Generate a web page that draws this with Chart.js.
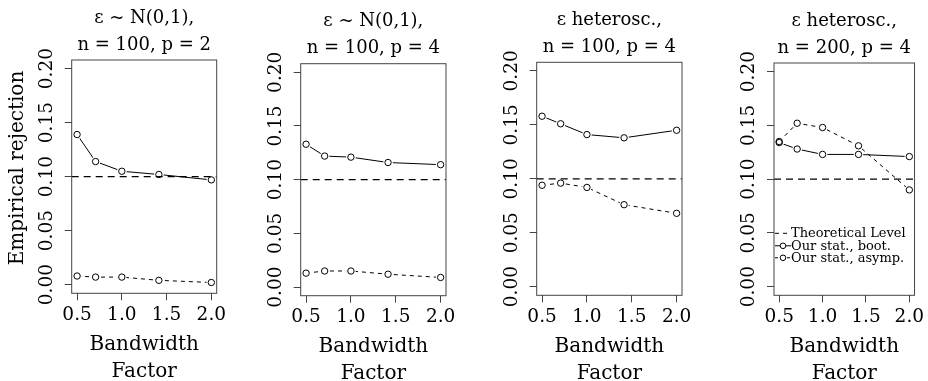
<!DOCTYPE html>
<html>
<head>
<meta charset="utf-8">
<script src="https://cdn.jsdelivr.net/npm/chart.js@4.4.0/dist/chart.umd.min.js"></script>
<style>
  html, body { margin: 0; padding: 0; background: #fff; }
  #wrap { position: relative; width: 928px; height: 381px; overflow: hidden; }
  canvas { position: absolute; top: 0; }
</style>
</head>
<body>
<div id="wrap">
  <canvas id="panel1" width="232" height="381" style="left:0px"></canvas>
  <canvas id="panel2" width="232" height="381" style="left:232px"></canvas>
  <canvas id="panel3" width="232" height="381" style="left:464px"></canvas>
  <canvas id="panel4" width="232" height="381" style="left:696px"></canvas>
</div>
<script>
// bandwidth factors (x) and axis ticks
const bandwidth = [0.5, 0.707, 1.0, 1.414, 2.0];
const xTicks = [0.5, 1.0, 1.5, 2.0];
const yTicks = [0.00, 0.05, 0.10, 0.15, 0.20];
const theoreticalLevel = 0.1;

// panel titles
const titlesP1 = ['ε ~ N(0,1),', 'n = 100, p = 2'];
const titlesP2 = ['ε ~ N(0,1),', 'n = 100, p = 4'];
const titlesP3 = ['ε heterosc.,', 'n = 100, p = 4'];
const titlesP4 = ['ε heterosc.,', 'n = 200, p = 4'];

// empirical rejection rates
const bootP1 = [0.139, 0.114, 0.105, 0.102, 0.097];
const asympP1 = [0.008, 0.007, 0.007, 0.004, 0.002];
const bootP2 = [0.133, 0.122, 0.121, 0.116, 0.114];
const asympP2 = [0.013, 0.015, 0.015, 0.012, 0.009];
const bootP3 = [0.158, 0.151, 0.141, 0.138, 0.145];
const asympP3 = [0.094, 0.096, 0.092, 0.076, 0.068];
const bootP4 = [0.134, 0.128, 0.123, 0.123, 0.121];
const asympP4 = [0.135, 0.152, 0.148, 0.131, 0.090];

const legendLabels = ['Theoretical Level', 'Our stat., boot.', 'Our stat., asymp.'];
const xTitle = ['Bandwidth', 'Factor'];
const yTitle = 'Empirical rejection';

const FONT = "'DejaVu Serif', serif";
const X_MIN = 0.44, X_MAX = 2.06, Y_MIN = -0.008, Y_MAX = 0.208;
const CANVAS_W = 232, CANVAS_H = 381;
const TICK_SIZE = 18.5;

// plot region of every panel, in page pixels
const panels = [
  { id: 'panel1', canvasLeft: 0, left: 71.7, right: 216.7, top: 60, bottom: 293.3, titles: titlesP1, boot: bootP1, asymp: asympP1, yLabel: true, legend: false },
  { id: 'panel2', canvasLeft: 232, left: 300.7, right: 446, top: 63.7, bottom: 295.7, titles: titlesP2, boot: bootP2, asymp: asympP2, yLabel: false, legend: false },
  { id: 'panel3', canvasLeft: 464, left: 536.7, right: 682, top: 62.3, bottom: 295.3, titles: titlesP3, boot: bootP3, asymp: asympP3, yLabel: false, legend: false },
  { id: 'panel4', canvasLeft: 696, left: 774, right: 918.3, top: 63, bottom: 295.3, titles: titlesP4, boot: bootP4, asymp: asympP4, yLabel: false, legend: true },
];

const ASYMP_DASH = [4, 4];
const LEVEL_DASH = [7, 5];

function toPoints(values) {
  return values.map((v, i) => ({ x: bandwidth[i], y: v }));
}

// box around the plot region, like R's box()
const framePlugin = {
  id: 'frame',
  afterDatasetsDraw(chart) {
    const { ctx, chartArea } = chart;
    ctx.save();
    ctx.strokeStyle = '#444';
    ctx.lineWidth = 1;
    ctx.strokeRect(chartArea.left, chartArea.top, chartArea.right - chartArea.left, chartArea.bottom - chartArea.top);
    ctx.restore();
  },
};

function makeTextPlugin(panel) {
  return {
    id: 'panelText',
    afterDraw(chart) {
      const { ctx, chartArea } = chart;
      const cx = (chartArea.left + chartArea.right) / 2;
      ctx.save();
      ctx.fillStyle = '#000';
      ctx.textAlign = 'center';
      ctx.textBaseline = 'middle';

      // title
      ctx.font = `18px ${FONT}`;
      ctx.fillText(panel.titles[0], cx, chartArea.top - 42);
      ctx.fillText(panel.titles[1], cx, chartArea.top - 15);

      // x axis title
      ctx.font = `20px ${FONT}`;
      ctx.fillText(xTitle[0], cx, chartArea.bottom + 51.5);
      ctx.fillText(xTitle[1], cx, chartArea.bottom + 78);

      // y axis title
      if (panel.yLabel) {
        ctx.save();
        ctx.translate(17.5, 168);
        ctx.rotate(-Math.PI / 2);
        ctx.fillText(yTitle, 0, 0);
        ctx.restore();
      }

      // legend (bottom left, inside the box)
      if (panel.legend) {
        const x0 = chartArea.left + 1;
        const x1 = chartArea.left + 17;
        const rows = [chartArea.bottom - 62, chartArea.bottom - 49.5, chartArea.bottom - 37.5];
        ctx.strokeStyle = '#000';
        ctx.lineWidth = 1;
        rows.forEach((y, i) => {
          ctx.setLineDash(i === 1 ? [] : (i === 0 ? [4, 4] : [3, 3]));
          ctx.beginPath();
          ctx.moveTo(x0, y);
          ctx.lineTo(x1, y);
          ctx.stroke();
          ctx.setLineDash([]);
          if (i > 0) {
            ctx.beginPath();
            ctx.fillStyle = '#fff';
            ctx.arc((x0 + x1) / 2, y, 2.8, 0, Math.PI * 2);
            ctx.fill();
            ctx.stroke();
          }
        });
        ctx.fillStyle = '#000';
        ctx.textAlign = 'left';
        ctx.font = `13px ${FONT}`;
        rows.forEach((y, i) => ctx.fillText(legendLabels[i], x1, y + 0.5));
      }
      ctx.restore();
    },
  };
}

// crear cada panel
panels.forEach((panel) => {
  const ctx = document.getElementById(panel.id).getContext('2d');

  const data = {
    datasets: [
      {
        label: 'boot line',
        data: toPoints(panel.boot),
        showLine: true,
        borderColor: '#000',
        borderWidth: 1,
        pointRadius: 0,
        order: 6,
      },
      {
        label: 'asymp line',
        data: toPoints(panel.asymp),
        showLine: true,
        borderColor: '#000',
        borderWidth: 1,
        borderDash: ASYMP_DASH,
        pointRadius: 0,
        order: 5,
      },
      // gaps around the points (R type = "b")
      {
        label: 'boot gap',
        data: toPoints(panel.boot),
        showLine: false,
        pointRadius: 4.8,
        pointBackgroundColor: '#fff',
        pointBorderWidth: 0,
        order: 4,
      },
      {
        label: 'asymp gap',
        data: toPoints(panel.asymp),
        showLine: false,
        pointRadius: 4.8,
        pointBackgroundColor: '#fff',
        pointBorderWidth: 0,
        order: 4,
      },
      {
        label: legendLabels[0],
        data: [{ x: X_MIN, y: theoreticalLevel }, { x: X_MAX, y: theoreticalLevel }],
        showLine: true,
        borderColor: '#000',
        borderWidth: 1.2,
        borderDash: LEVEL_DASH,
        pointRadius: 0,
        order: 2,
      },
      {
        label: legendLabels[1],
        data: toPoints(panel.boot),
        showLine: false,
        pointRadius: 3.2,
        pointBackgroundColor: 'rgba(0,0,0,0)',
        pointBorderColor: '#000',
        pointBorderWidth: 1,
        order: 1,
      },
      {
        label: legendLabels[2],
        data: toPoints(panel.asymp),
        showLine: false,
        pointRadius: 3.2,
        pointBackgroundColor: 'rgba(0,0,0,0)',
        pointBorderColor: '#000',
        pointBorderWidth: 1,
        order: 1,
      },
    ],
  };

  const options = {
    responsive: false,
    animation: false,
    devicePixelRatio: 1,
    layout: {
      padding: { top: panel.top, right: panel.canvasLeft + CANVAS_W - panel.right, bottom: 0, left: 0 },
    },
    plugins: {
      legend: { display: false },
      tooltip: { enabled: false },
      title: { display: false },
    },
    scales: {
      x: {
        type: 'linear',
        min: X_MIN,
        max: X_MAX,
        afterBuildTicks: (scale) => { scale.ticks = xTicks.map((v) => ({ value: v })); },
        afterFit: (scale) => { scale.height = CANVAS_H - panel.bottom; },
        grid: { drawOnChartArea: false, drawTicks: true, tickLength: 7, color: '#444', lineWidth: 1 },
        border: { display: false },
        ticks: {
          autoSkip: false,
          minRotation: 0,
          maxRotation: 0,
          padding: 3.6,
          color: '#000',
          font: { family: FONT, size: TICK_SIZE },
          callback: (v) => Number(v).toFixed(1),
        },
      },
      y: {
        type: 'linear',
        min: Y_MIN,
        max: Y_MAX,
        afterBuildTicks: (scale) => { scale.ticks = yTicks.map((v) => ({ value: v })); },
        afterFit: (scale) => { scale.width = panel.left - panel.canvasLeft; },
        grid: { drawOnChartArea: false, drawTicks: true, tickLength: 7, color: '#444', lineWidth: 1 },
        border: { display: false },
        ticks: {
          autoSkip: false,
          minRotation: 90,
          maxRotation: 90,
          crossAlign: 'center',
          padding: -2.6,
          color: '#000',
          font: { family: FONT, size: TICK_SIZE },
          callback: (v) => Number(v).toFixed(2),
        },
      },
    },
  };

  new Chart(ctx, {
    type: 'scatter',
    data,
    options,
    plugins: [framePlugin, makeTextPlugin(panel)],
  });
});
</script>
</body>
</html>
